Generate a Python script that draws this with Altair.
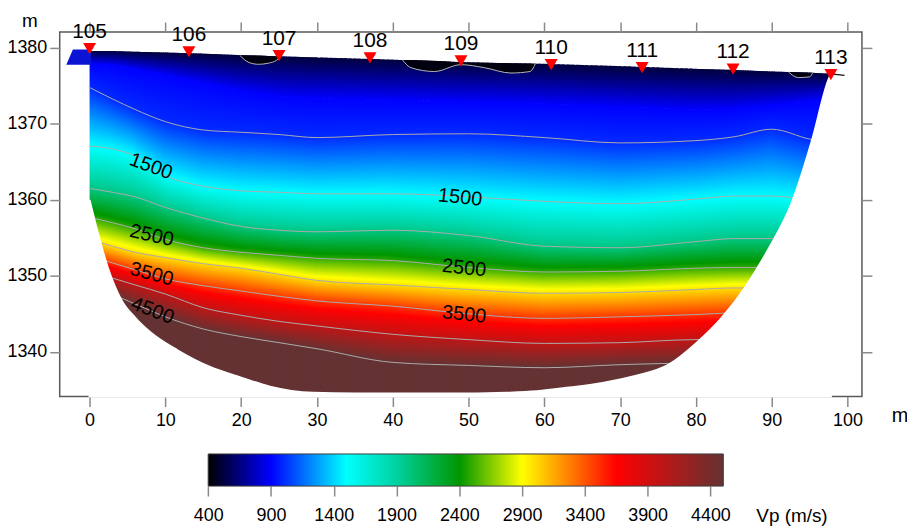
import altair as alt
import pandas as pd

FONT = "Liberation Sans"

# ---------------- data ----------------
# x positions (m) where the contour depths were read
x_grid = [0, 3, 6, 10, 15, 20, 25, 30, 40, 50, 60, 70, 80, 85, 90, 95, 97.8]
# top of the model (elevation, m)
surface = [1379.6, 1379.6, 1379.5, 1379.4, 1379.25, 1379.05, 1378.9, 1378.75, 1378.45,
           1378.1, 1377.9, 1377.6, 1377.25, 1377.1, 1376.9, 1376.75, 1376.6]
# depth where the colour becomes pure blue (~900 m/s)
c900 = [1378.0, 1377.8, 1377.3, 1376.5, 1375.5, 1374.4, 1373.7, 1373.4, 1373.2,
        1373.0, 1372.7, 1372.3, 1371.9, 1372.0, 1372.5, 1373.0, 1373.4]
# iso-velocity contours (elevation, m)
c1000 = [1374.8, 1373.3, 1371.9, 1370.3, 1369.2, 1368.9, 1368.6, 1368.2, 1368.6,
         1368.7, 1368.2, 1367.5, 1367.8, 1368.3, 1369.3, 1368.0, 1367.5]
c1500 = [1367.1, 1366.7, 1365.8, 1363.2, 1361.8, 1361.2, 1361.0, 1360.8, 1360.8,
         1360.4, 1359.8, 1359.5, 1360.1, 1360.5, 1360.5, 1360.1, 1360.0]
c2000 = [1361.5, 1361.0, 1360.4, 1359.0, 1357.6, 1356.5, 1356.0, 1355.8, 1356.0,
         1355.3, 1353.9, 1353.7, 1354.5, 1354.9, 1354.9, 1355.0, 1355.0]
c2500 = [1357.7, 1357.0, 1356.2, 1354.8, 1353.7, 1353.1, 1352.7, 1352.3, 1352.0,
         1351.1, 1350.5, 1350.6, 1351.0, 1351.1, 1351.1, 1351.1, 1351.1]
c3000 = [1354.8, 1353.9, 1353.1, 1352.4, 1351.6, 1351.0, 1350.2, 1349.4, 1348.8,
         1348.2, 1347.7, 1347.8, 1348.2, 1348.4, 1348.4, 1348.4, 1348.4]
c3500 = [1352.6, 1351.7, 1350.8, 1349.6, 1348.7, 1348.0, 1347.3, 1346.7, 1346.0,
         1345.0, 1344.4, 1344.6, 1344.9, 1345.1, 1345.1, 1345.1, 1345.1]
c4000 = [1350.5, 1349.7, 1348.8, 1347.6, 1345.8, 1344.8, 1344.0, 1343.4, 1342.3,
         1341.6, 1341.1, 1341.2, 1341.6, 1341.6, 1341.6, 1341.6, 1341.6]
c4500 = [1348.0, 1347.5, 1346.3, 1344.6, 1343.0, 1342.0, 1341.2, 1340.4, 1338.6,
         1338.2, 1337.9, 1338.3, 1338.5, 1338.5, 1338.5, 1338.5, 1338.5]
surface_vp = 520

# bottom edge of the model (outside is blank)
bnd_x = [0, 1.1, 2.4, 4.2, 6, 8.1, 11.6, 15.9, 20, 23.8, 29.5, 35, 40, 45, 50, 55, 59, 63.3,
         67.7, 72, 76.4, 80, 83.5, 86.5, 89.5, 92.6, 95.3, 97.4, 97.8]
bnd_d = [1360.0, 1355.6, 1351.1, 1346.8, 1344.5, 1342.5, 1340.2, 1338.0, 1336.6, 1335.4,
         1334.6, 1334.5, 1334.5, 1334.5, 1334.5, 1334.6, 1334.8, 1335.3, 1335.9, 1336.8,
         1338.3, 1341.1, 1344.6, 1348.5, 1353.4, 1359.5, 1367.8, 1375.6, 1376.6]

# low-velocity pockets (< 500 m/s) under the surface
pk_id = [1] * 6 + [2] * 8 + [3] * 4
pk_x = [19.8, 21.0, 22.3, 23.6, 24.7, 25.2,
        41.3, 42.4, 45.5, 49.0, 52.1, 55.6, 58.1, 58.8,
        92.2, 93.5, 95.0, 95.4]
pk_top = [1379.05, 1379.0, 1379.0, 1378.95, 1378.9, 1378.9,
          1378.4, 1378.4, 1378.3, 1378.1, 1378.05, 1378.0, 1377.95, 1377.9,
          1376.85, 1376.8, 1376.75, 1376.75]
pk_bot = [1379.05, 1378.1, 1377.85, 1378.0, 1378.4, 1378.9,
          1378.4, 1377.4, 1376.9, 1377.8, 1377.4, 1376.7, 1376.9, 1377.9,
          1376.85, 1376.1, 1376.2, 1376.75]

# small block left of station 105
para_x = [-3.07, -2.2, 0.2]
para_top = [1377.8, 1379.8, 1379.8]
para_bot = [1377.8, 1377.8, 1377.8]
tail_x = [97.8, 99.6]
tail_d = [1376.6, 1376.4]

# stations (geophones)
st_name = ["105", "106", "107", "108", "109", "110", "111", "112", "113"]
st_x = [0, 13.1, 25, 37, 49, 60.9, 72.9, 84.9, 97.8]
st_elev = [1379.9, 1379.5, 1379.0, 1378.7, 1378.3, 1377.8, 1377.4, 1377.2, 1376.5]

# contour labels
lab_text = ["1500", "1500", "2500", "2500", "3500", "3500", "4500"]
lab_x = [8.1, 48.9, 8.2, 49.4, 8.2, 49.4, 8.3]
lab_d = [1364.4, 1360.3, 1355.3, 1351.0, 1350.2, 1344.9, 1345.4]
lab_ang = [20, 6, 13, 6, 15, 6, 21]

# colour scale
cmap_v = [400, 900, 1500, 1900, 2400, 2900, 3650, 4500]
cmap_c = ["#000000", "#0000ff", "#00ffff", "#00d2a0", "#009600", "#ffff00", "#ff0000", "#643232"]
vp_ticks = [400, 900, 1400, 1900, 2400, 2900, 3400, 3900, 4400]
cbar_lo, cbar_hi = 400, 4503

x_ticks = [0, 10, 20, 30, 40, 50, 60, 70, 80, 90, 100]
y_ticks = [1340, 1350, 1360, 1370, 1380]
X_DOM = [-3.94, 101.9]
Y_DOM = [1334.1, 1382.1]
NSUB = 16  # drawing pieces per segment (rendering only)
LAST = len(x_grid) - 2


# ---------------- helpers ----------------
def h2rgb(h):
    return tuple(int(h[i:i + 2], 16) for i in (1, 3, 5))


def col(v):
    if v <= cmap_v[0]:
        return cmap_c[0]
    if v >= cmap_v[-1]:
        return cmap_c[-1]
    for i in range(len(cmap_v) - 1):
        a, b = cmap_v[i], cmap_v[i + 1]
        if a <= v <= b:
            t = (v - a) / (b - a)
            ca, cb = h2rgb(cmap_c[i]), h2rgb(cmap_c[i + 1])
            c = [round(ca[k] + (cb[k] - ca[k]) * t) for k in range(3)]
            return "#%02x%02x%02x" % tuple(c)


def grad(v0, v1, horizontal=False):
    vals = [v0] + [n for n in cmap_v if v0 < n < v1] + [v1]
    stops = [alt.GradientStop(offset=(v - v0) / (v1 - v0), color=col(v)) for v in vals]
    if horizontal:
        return alt.LinearGradient(gradient="linear", stops=stops, x1=0, x2=1, y1=0, y2=0)
    return alt.LinearGradient(gradient="linear", stops=stops, x1=0, x2=0, y1=0, y2=1)


xs = alt.Scale(domain=X_DOM, nice=False, zero=False)
ys = alt.Scale(domain=Y_DOM, nice=False, zero=False)

ax_common = dict(tickSize=10, tickWidth=1.5, tickColor="#8a8a8a", domain=False, grid=False,
                 labelFont=FONT, labelFontSize=18, labelColor="black", labelFlush=False,
                 labelOverlap=False, titleFont=FONT, titleFontWeight="normal", titleColor="black")

x_axis_bottom = alt.Axis(orient="bottom", values=x_ticks, format="d", labelPadding=5,
                         title="m", titleX=844.5, titleY=24.7, titleAngle=0, titleAlign="center",
                         titleBaseline="alphabetic", titleFontSize=20, **ax_common)
y_axis_left = alt.Axis(orient="left", values=y_ticks, format="d", labelPadding=3,
                       title="m", titleX=-30.5, titleY=-5.4, titleAngle=0, titleAlign="center",
                       titleBaseline="alphabetic", titleFontSize=19, **ax_common)
x_axis_top = alt.Axis(orient="top", values=x_ticks, labels=False, title=None, **ax_common)
y_axis_right = alt.Axis(orient="right", values=y_ticks, labels=False, title=None, **ax_common)

# ---------------- velocity bands ----------------
edges = [(surface, surface_vp), (c900, 900), (c1000, 1000), (c1500, 1500), (c2000, 2000),
         (c2500, 2500), (c3000, 3000), (c3500, 3500), (c4000, 4000), (c4500, 4500)]
layers = []
for k in range(len(edges)):
    top, v0 = edges[k]
    if k + 1 < len(edges):
        bot, v1 = edges[k + 1]
        paint = grad(v0, v1)
        over = 0.06
    else:
        bot = [Y_DOM[0]] * len(x_grid)
        paint = col(4500)
        over = 0.0
    df = pd.DataFrame({
        "x0": x_grid[:-1], "x1": x_grid[1:],
        "t0": top[:-1], "t1": top[1:],
        "b0": bot[:-1], "b1": bot[1:],
        "seg": list(range(len(x_grid) - 1)),
    })
    first = k == 0
    layers.append(
        alt.Chart(df)
        .transform_calculate(k=f"sequence(0, {NSUB})", e="[0, 1]")
        .transform_flatten(["k"])
        .transform_flatten(["e"])
        .transform_calculate(
            f=(f"clamp((datum.k + datum.e + (2 * datum.e - 1) * 0.35) / {NSUB}, "
               f"datum.seg == 0 ? 0 : -1, datum.seg == {LAST} ? 1 : 2)"),
            sub="datum.seg * 100 + datum.k",
        )
        .transform_calculate(
            x="datum.x0 + (datum.x1 - datum.x0) * datum.f",
            top="datum.t0 + (datum.t1 - datum.t0) * datum.f",
            bot=f"datum.b0 + (datum.b1 - datum.b0) * datum.f - {over}",
        )
        .mark_area(fill=paint, interpolate="linear")
        .encode(x=alt.X("x:Q", scale=xs, axis=x_axis_bottom if first else None),
                y=alt.Y("top:Q", scale=ys, axis=y_axis_left if first else None),
                y2="bot:Q", detail="sub:N")
    )

# ---------------- contour lines ----------------
levels = [(1000, c1000), (1500, c1500), (2000, c2000), (2500, c2500),
          (3000, c3000), (3500, c3500), (4000, c4000), (4500, c4500)]
crow = []
for lev, arr in levels:
    for xv, dv in zip(x_grid, arr):
        crow.append({"lev": lev, "x": xv, "d": dv})
df_c = pd.DataFrame(crow)
layers.append(
    alt.Chart(df_c).mark_line(color="#aaaaaa", strokeWidth=1, interpolate="monotone")
    .encode(x=alt.X("x:Q", scale=xs, axis=None), y=alt.Y("d:Q", scale=ys, axis=None),
            detail="lev:N")
)

# pockets
df_pk = pd.DataFrame({"id": pk_id, "x": pk_x, "top": pk_top, "bot": pk_bot})
layers.append(
    alt.Chart(df_pk).mark_area(fill="#00000e", interpolate="monotone")
    .encode(x=alt.X("x:Q", scale=xs, axis=None), y=alt.Y("top:Q", scale=ys, axis=None),
            y2="bot:Q", detail="id:N")
)
layers.append(
    alt.Chart(df_pk).mark_line(color="#b4b4b4", strokeWidth=1, interpolate="monotone")
    .encode(x=alt.X("x:Q", scale=xs, axis=None), y=alt.Y("bot:Q", scale=ys, axis=None),
            detail="id:N")
)

# mask below the model boundary
df_m = pd.DataFrame({"x": bnd_x, "d": bnd_d, "floor": [Y_DOM[0]] * len(bnd_x)})
layers.append(
    alt.Chart(df_m).mark_area(fill="white", stroke="white", strokeWidth=2, interpolate="monotone")
    .encode(x=alt.X("x:Q", scale=xs, axis=None), y=alt.Y("d:Q", scale=ys, axis=None),
            y2="floor:Q")
)

# small block left of 105
df_p = pd.DataFrame({"x": para_x, "top": para_top, "bot": para_bot})
layers.append(
    alt.Chart(df_p).mark_area(fill="#0a14d2")
    .encode(x=alt.X("x:Q", scale=xs, axis=None), y=alt.Y("top:Q", scale=ys, axis=None),
            y2="bot:Q")
)
df_t = pd.DataFrame({"x": tail_x, "d": tail_d})
layers.append(
    alt.Chart(df_t).mark_line(color="#111111", strokeWidth=1.2)
    .encode(x=alt.X("x:Q", scale=xs, axis=None), y=alt.Y("d:Q", scale=ys, axis=None))
)

# contour labels
df_l = pd.DataFrame({"t": lab_text, "x": lab_x, "d": lab_d, "a": lab_ang})
layers.append(
    alt.Chart(df_l).mark_text(font=FONT, fontSize=20, color="black", align="center",
                              baseline="middle")
    .encode(x=alt.X("x:Q", scale=xs, axis=None), y=alt.Y("d:Q", scale=ys, axis=None),
            text="t:N", angle=alt.Angle("a:Q", scale=None))
)

# stations
df_s = pd.DataFrame({"name": st_name, "x": st_x, "elev": st_elev})
layers.append(
    alt.Chart(df_s).mark_point(shape="triangle-down", filled=True, size=170, fill="#ff0000",
                               strokeWidth=0, opacity=1)
    .encode(x=alt.X("x:Q", scale=xs, axis=x_axis_top),
            y=alt.Y("elev:Q", scale=ys, axis=y_axis_right))
)
layers.append(
    alt.Chart(df_s).mark_text(font=FONT, fontSize=21, color="black", align="center",
                              baseline="alphabetic", dy=-11)
    .encode(x=alt.X("x:Q", scale=xs, axis=None), y=alt.Y("elev:Q", scale=ys, axis=None),
            text="name:N")
)

main = alt.layer(*layers)

# ---------------- colour bar ----------------
df_cb = pd.DataFrame({"v0": [cbar_lo], "v1": [cbar_hi], "b0": [0], "b1": [1]})
cb_axis = alt.Axis(orient="bottom", offset=90, values=vp_ticks, format="d", labelPadding=11,
                   title="Vp (m/s)", titleX=700, titleY=35.7, titleAngle=0, titleAlign="left",
                   titleBaseline="alphabetic", titleFontSize=19, **ax_common)
cbar = alt.Chart(df_cb).mark_rect(fill=grad(cbar_lo, cbar_hi, horizontal=True),
                                  stroke="#3c3c3c", strokeWidth=1).encode(
    x=alt.X("v0:Q", scale=alt.Scale(domain=[cbar_lo, cbar_hi], range=[149.3, 667.3],
                                    nice=False, zero=False), axis=cb_axis),
    x2="v1:Q",
    y=alt.Y("b0:Q", scale=alt.Scale(domain=[0, 1], range=[456.6, 424.3], nice=False, zero=False),
            axis=None),
    y2="b1:Q",
)

chart = (
    alt.layer(main, cbar)
    .resolve_scale(x="independent", y="independent")
    .properties(width=806.7, height=366.6,
                autosize=alt.AutoSizeParams(type="none"),
                padding={"left": 52, "top": 22.7, "right": 45.3, "bottom": 130.7},
                background="white")
    .configure_view(stroke="#5a5a5a", strokeWidth=1.5)
)

chart.save("out.html", embed_options={"renderer": "svg", "actions": False})
